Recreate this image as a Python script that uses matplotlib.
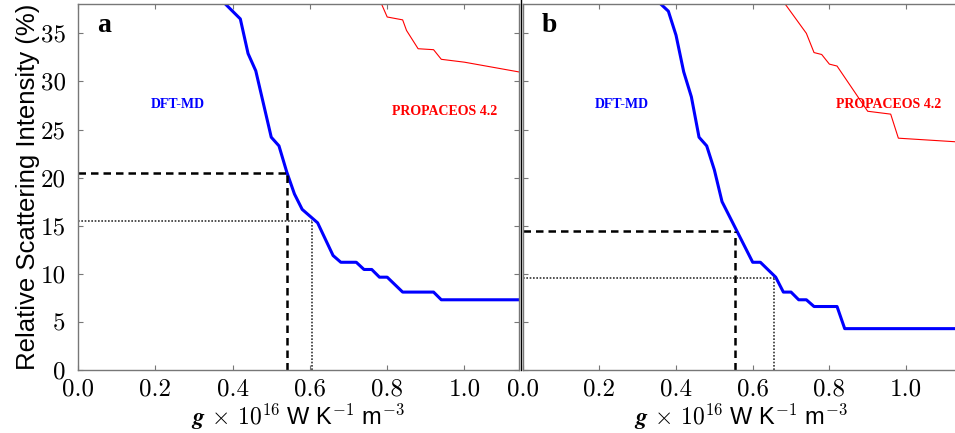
import matplotlib
matplotlib.use("Agg")
import matplotlib.pyplot as plt
from matplotlib.lines import Line2D

plt.rcParams["mathtext.fontset"] = "cm"
plt.rcParams["axes.formatter.use_mathtext"] = True

# panel a
a_dft_x = [0.36, 0.42, 0.44, 0.46, 0.50, 0.52, 0.54, 0.56, 0.58, 0.62, 0.66, 0.68,
           0.72, 0.74, 0.76, 0.78, 0.80, 0.84, 0.92, 0.94, 1.16]
a_dft_y = [38.9, 36.5, 32.9, 31.1, 24.2, 23.3, 20.6, 18.3, 16.7, 15.3, 11.9, 11.2,
           11.2, 10.45, 10.45, 9.65, 9.65, 8.1, 8.1, 7.3, 7.3]
a_prop_x = [0.775, 0.80, 0.84, 0.85, 0.88, 0.92, 0.94, 1.00, 1.16]
a_prop_y = [39.0, 36.7, 36.4, 35.3, 33.4, 33.3, 32.3, 32.0, 30.85]
a_dash = (0.54, 20.5)
a_dot = (0.605, 15.5)

# panel b
b_dft_x = [0.34, 0.38, 0.40, 0.42, 0.44, 0.46, 0.48, 0.50, 0.52, 0.60, 0.62, 0.66,
           0.68, 0.70, 0.72, 0.74, 0.76, 0.82, 0.84, 1.16]
b_dft_y = [38.8, 37.3, 34.8, 31.0, 28.4, 24.2, 23.3, 20.8, 17.5, 11.2, 11.2, 9.65,
           8.1, 8.1, 7.3, 7.3, 6.6, 6.6, 4.3, 4.3]
b_prop_x = [0.66, 0.74, 0.76, 0.78, 0.80, 0.82, 0.90, 0.96, 0.98, 1.16]
b_prop_y = [39.4, 35.0, 33.0, 32.8, 31.8, 31.6, 26.9, 26.6, 24.1, 23.65]
b_dash = (0.553, 14.5)
b_dot = (0.655, 9.55)

xticks = [0.0, 0.2, 0.4, 0.6, 0.8, 1.0]
yticks = [0, 5, 10, 15, 20, 25, 30, 35]

W, H = 955, 433
fig = plt.figure(figsize=(W / 100, H / 100), dpi=100)
ax_a = fig.add_axes([78 / W, 1 - 370 / H, 440.6 / W, 366 / H])
ax_b = fig.add_axes([522.7 / W, 1 - 370 / H, 437 / W, 366 / H])

serif_b = {"family": "Liberation Serif", "weight": "bold"}


def draw_panel(ax, dft_x, dft_y, prop_x, prop_y, dash, dot, letter, prop_pos, show_y):
    ax.plot(prop_x, prop_y, color="red", lw=0.8)
    ax.plot(dft_x, dft_y, color="blue", lw=2.2)
    ax.plot([0, dash[0]], [dash[1], dash[1]], color="black", lw=1.8, ls=(0, (3, 2)))
    ax.plot([dash[0], dash[0]], [0, dash[1]], color="black", lw=1.8, ls=(0, (3, 2)))
    ax.plot([0, dot[0]], [dot[1], dot[1]], color="#333333", lw=1.2, ls=(0, (1, 1)))
    ax.plot([dot[0], dot[0]], [0, dot[1]], color="#333333", lw=1.2, ls=(0, (1, 1)))

    ax.text(0.259, 27.6, "DFT-MD", color="blue", fontsize=10, ha="center", va="center", **serif_b)
    ax.text(prop_pos[0], prop_pos[1], "PROPACEOS 4.2", color="red", fontsize=10,
            ha="center", va="center", **serif_b)
    ax.text(0.043, 0.94, letter, transform=ax.transAxes, fontsize=20, ha="left", va="center",
            **serif_b)

    ax.set_xlim(0, 1.14)
    ax.set_ylim(0, 38.05)
    ax.set_xticks(xticks)
    ax.set_yticks(yticks)
    ax.set_xticklabels([f"{t:.1f}" for t in xticks], fontfamily="cmr10", fontsize=18)
    if show_y:
        ax.set_yticklabels([str(t) for t in yticks], fontfamily="cmr10", fontsize=18)
    else:
        ax.set_yticklabels([])
    ax.tick_params(direction="in", top=True, right=True, length=3.5, width=0.8,
                   color="#777777", pad=6)
    ax.tick_params(axis="y", pad=9)
    for sp in ax.spines.values():
        sp.set_color("#777777")
        sp.set_linewidth(1.0)
    ax.set_xlabel(r"$\mathbfit{g}\,\times\,10^{16}$ W K$^{-1}$ m$^{-3}$",
                  fontfamily="Liberation Sans", fontsize=17, labelpad=1)


draw_panel(ax_a, a_dft_x, a_dft_y, a_prop_x, a_prop_y, a_dash, a_dot, "a", (0.948, 26.9), True)
draw_panel(ax_b, b_dft_x, b_dft_y, b_prop_x, b_prop_y, b_dash, b_dot, "b", (0.955, 27.6), False)

ax_a.set_ylabel("Relative Scattering Intensity (%)", fontfamily="Liberation Sans",
                fontsize=18.5, labelpad=0)

# thin black separator between the panels
fig.add_artist(Line2D([520.5 / W, 520.5 / W], [1 - 370 / H, 1.0], color="black", lw=1.0,
                      transform=fig.transFigure))

fig.savefig("out.png", dpi=100)
